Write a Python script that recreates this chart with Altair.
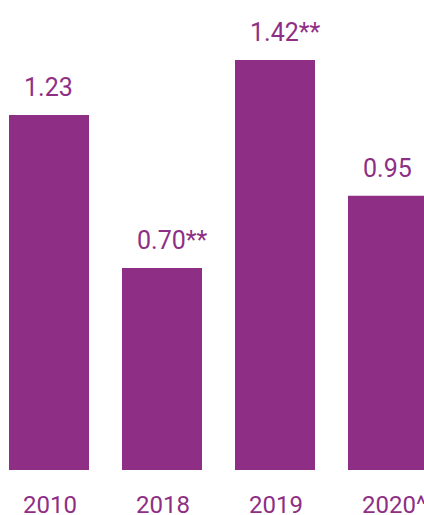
import altair as alt
import pandas as pd

years = ["2010", "2018", "2019", "2020^"]
values = [1.23, 0.70, 1.42, 0.95]
value_labels = ["1.23", "0.70**", "1.42**", "0.95"]

PURPLE = "#8E2F85"
FONT = "Roboto"

df = pd.DataFrame({"year": years, "value": values, "label": value_labels})

xscale = alt.Scale(range=[9, 428], paddingInner=0.292, paddingOuter=0)

x = alt.X(
    "year:N",
    sort=years,
    title=None,
    scale=xscale,
    axis=alt.Axis(
        domain=False,
        ticks=False,
        grid=False,
        labelAngle=0,
        labelFont=FONT,
        labelFontSize=24,
        labelColor=PURPLE,
        labelAlign="left",
        labelOffset=-26,
        labelPadding=23,
        labelFlush=False,
        labelOverlap=False,
        labelBound=False,
    ),
)
y = alt.Y(
    "value:Q",
    title=None,
    scale=alt.Scale(domain=[0, 1.628], nice=False, zero=True),
    axis=None,
)

bars = alt.Chart(df).mark_bar(color=PURPLE, strokeWidth=0).encode(x=x, y=y)

text = alt.Chart(df).mark_text(
    font=FONT,
    fontSize=25,
    color=PURPLE,
    align="left",
    baseline="alphabetic",
    dx=-25,
    dy=-19,
).encode(x=alt.X("year:N", sort=years, scale=xscale), y="value:Q", text="label:N")

chart = (
    alt.layer(bars, text)
    .properties(
        width=424,
        height=470,
        padding={"left": 0, "top": 0, "right": 0, "bottom": 45},
        autosize=alt.AutoSizeParams(type="none"),
        view=alt.ViewBackground(strokeWidth=0, fill="white", strokeOpacity=0),
    )
    .configure_view(strokeWidth=0, strokeOpacity=0)
    .configure(background="white")
)

chart.save("out.html", embed_options={"renderer": "svg", "actions": False})
